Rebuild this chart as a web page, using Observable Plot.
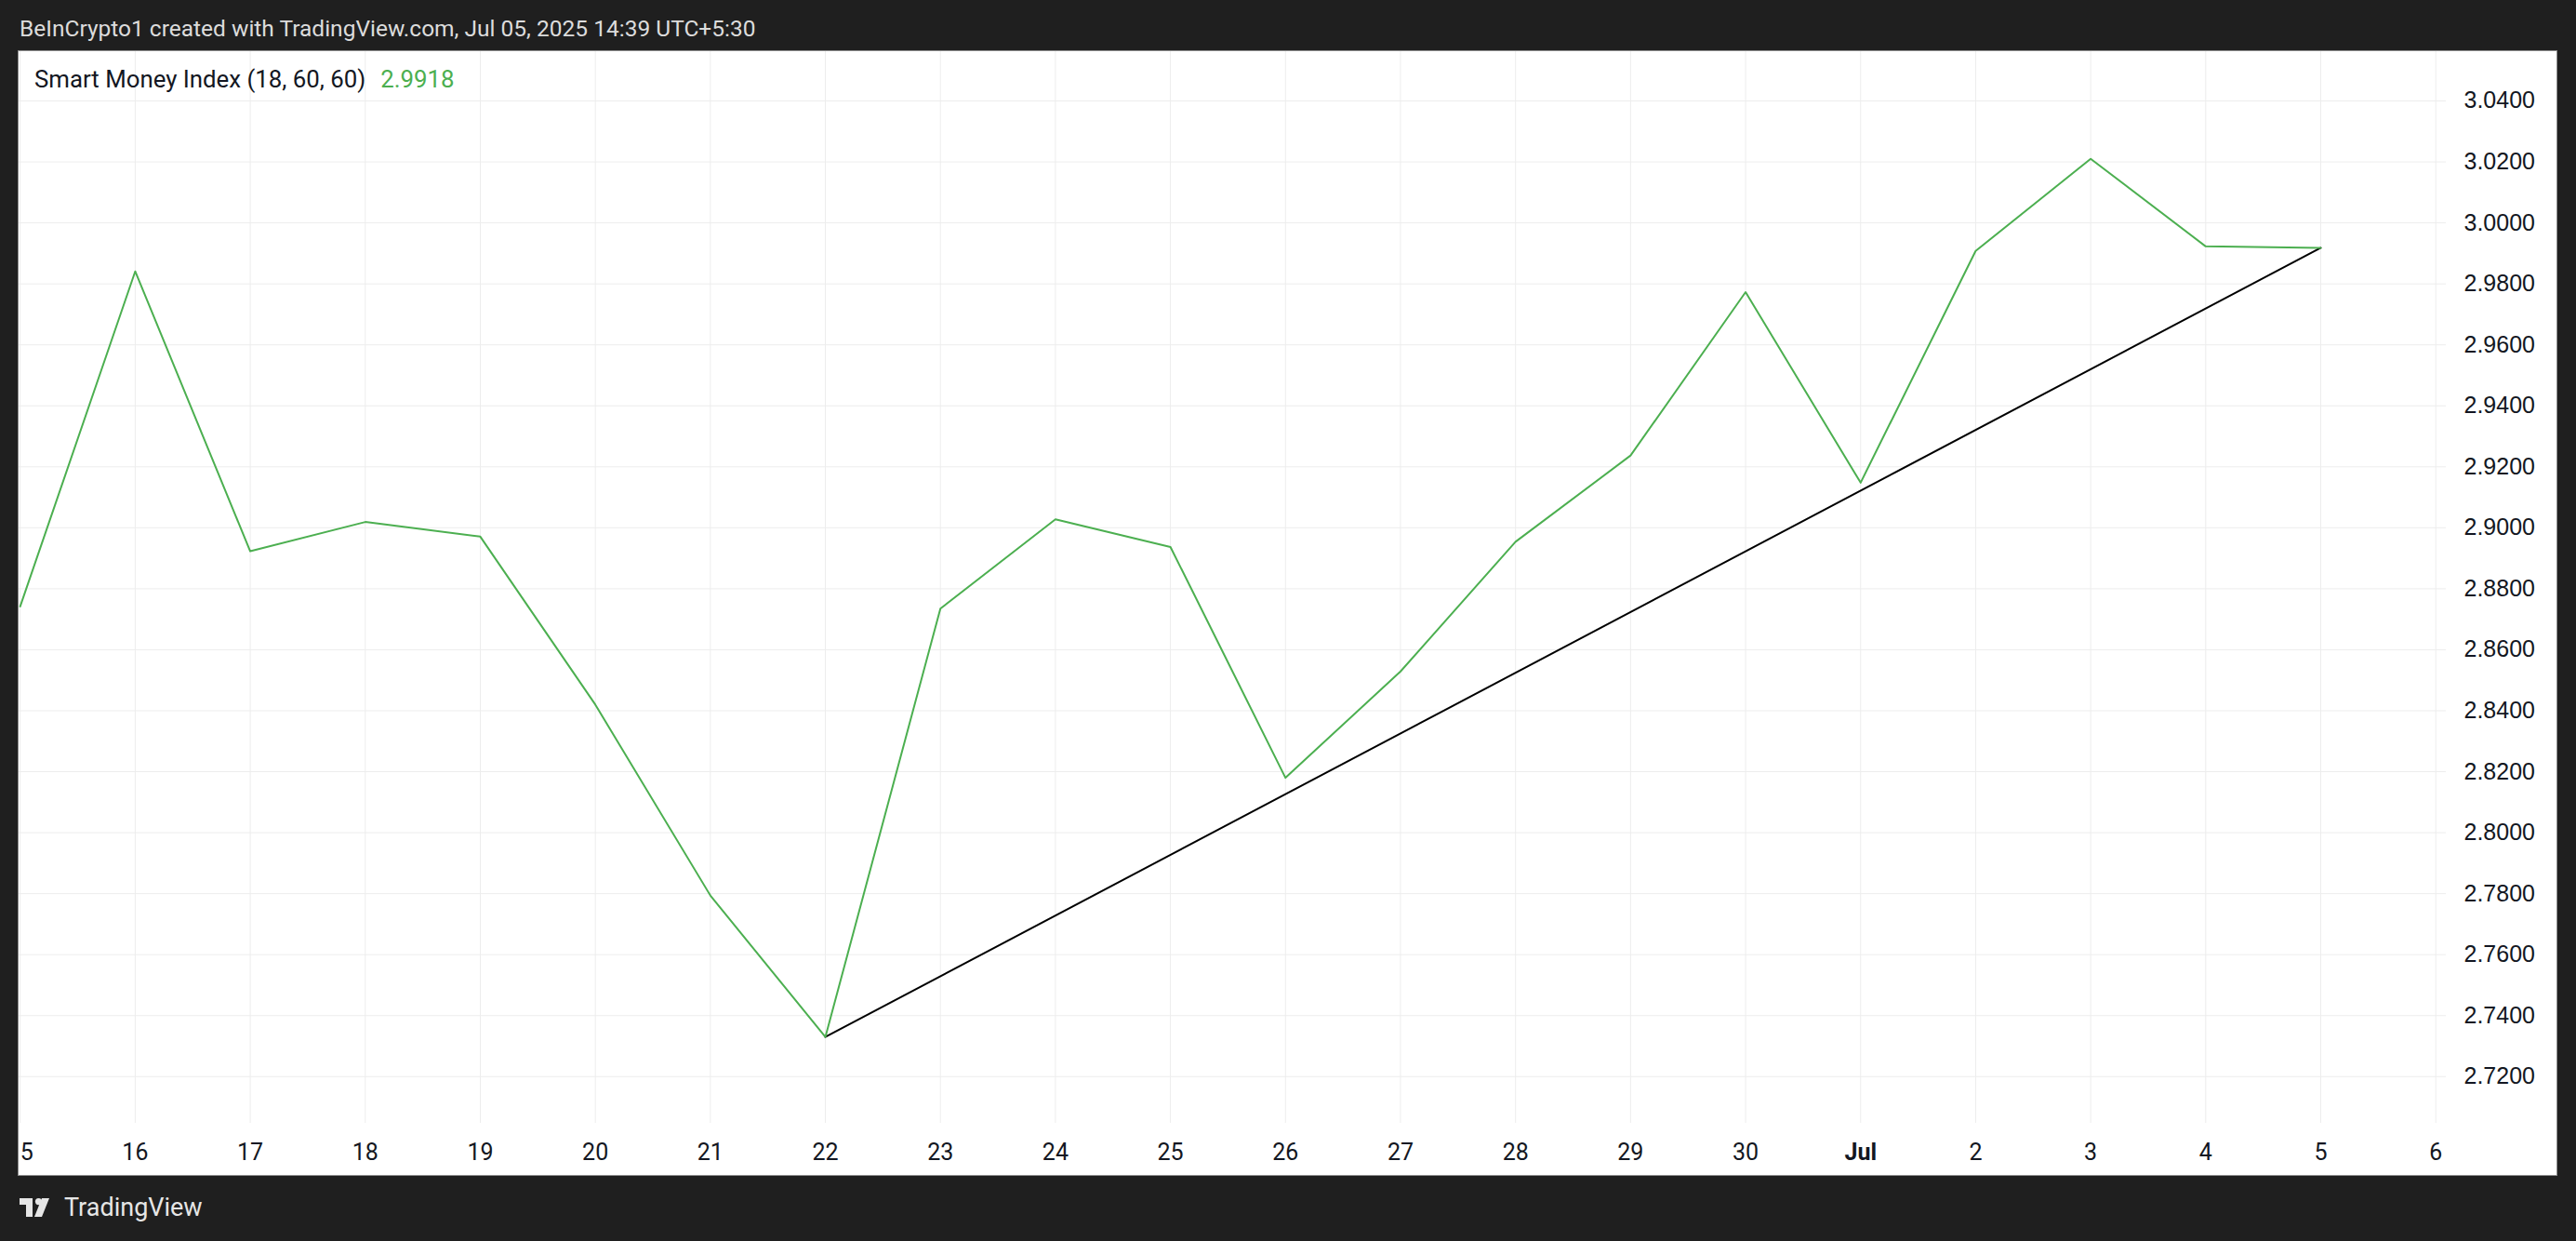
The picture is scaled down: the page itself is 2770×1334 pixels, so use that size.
<!DOCTYPE html>
<html>
<head>
<meta charset="utf-8">
<script src="https://cdn.jsdelivr.net/npm/d3@7"></script>
<script src="https://cdn.jsdelivr.net/npm/@observablehq/plot@0.6"></script>
<style>
  html, body { margin: 0; padding: 0; background: #1f1f1f; }
  body { width: 2770px; height: 1334px; position: relative; overflow: hidden; }
  #panel { position: absolute; left: 20px; top: 55px; width: 2729px; height: 1208px; background: #ffffff; }
  #border { position: absolute; left: 19px; top: 54px; width: 2729px; height: 1208px; border: 1px solid #8c8c8c; pointer-events: none; }
  #overlay { position: absolute; left: 0; top: 0; pointer-events: none; }
</style>
</head>
<body>
<div id="border"></div>
<div id="panel"></div>
<svg id="overlay" width="2770" height="1334"></svg>
<script>
// ---- data ----
const dates = [
  "2025-06-15","2025-06-16","2025-06-17","2025-06-18","2025-06-19","2025-06-20","2025-06-21",
  "2025-06-22","2025-06-23","2025-06-24","2025-06-25","2025-06-26","2025-06-27","2025-06-28",
  "2025-06-29","2025-06-30","2025-07-01","2025-07-02","2025-07-03","2025-07-04","2025-07-05"
];
const smiValues = [
  2.8742, 2.9841, 2.8923, 2.9019, 2.8971, 2.8420, 2.7794,
  2.7330, 2.8735, 2.9028, 2.8937, 2.8180, 2.8529, 2.8954,
  2.9237, 2.9773, 2.9148, 2.9908, 3.0210, 2.9923, 2.9918
];
const trendDates = ["2025-06-22", "2025-07-05"];
const trendValues = [2.7330, 2.9918];

const xTickDates = [
  "2025-06-15","2025-06-16","2025-06-17","2025-06-18","2025-06-19","2025-06-20","2025-06-21",
  "2025-06-22","2025-06-23","2025-06-24","2025-06-25","2025-06-26","2025-06-27","2025-06-28",
  "2025-06-29","2025-06-30","2025-07-01","2025-07-02","2025-07-03","2025-07-04","2025-07-05","2025-07-06"
];
const yTicks = [2.72, 2.74, 2.76, 2.78, 2.80, 2.82, 2.84, 2.86, 2.88, 2.90, 2.92, 2.94, 2.96, 2.98, 3.00, 3.02, 3.04];

const titleText = "BeInCrypto1 created with TradingView.com, Jul 05, 2025 14:39 UTC+5:30";
const legendName = "Smart Money Index (18, 60, 60)";
const legendValue = "2.9918";

// ---- build ----
const parse = s => new Date(s + "T00:00:00Z");
const series = dates.map((d, i) => ({date: parse(d), value: smiValues[i]}));
const trend = trendDates.map((d, i) => ({date: parse(d), value: trendValues[i]}));
const xTicks = xTickDates.map(parse);
const isJul1 = d => d.getUTCMonth() === 6 && d.getUTCDate() === 1;

const DAY = 864e5;
const xDomain = [new Date(parse("2025-06-15").getTime() - 0.0097 * DAY), new Date(parse("2025-07-06").getTime() + 0.0914 * DAY)];

const green = "#4caf50";
const textColor = "#131722";
const gridColor = "#ededed";
const font = "Roboto, 'Liberation Sans', sans-serif";

const chart = Plot.plot({
  width: 2729,
  height: 1208,
  marginLeft: 0,
  marginRight: 119,
  marginTop: 0,
  marginBottom: 56,
  style: {background: "#ffffff", fontFamily: font},
  x: {type: "utc", domain: xDomain, axis: null},
  y: {domain: [2.70468, 3.05617], axis: null},
  marks: [
    Plot.gridX(xTicks, {stroke: gridColor, strokeOpacity: 1, strokeWidth: 1}),
    Plot.gridY(yTicks, {stroke: gridColor, strokeOpacity: 1, strokeWidth: 1}),
    Plot.axisX(xTicks.filter(d => !isJul1(d)), {
      anchor: "bottom", tickSize: 0, tickPadding: 22, label: null,
      tickFormat: d => String(d.getUTCDate()),
      fontSize: 25, fill: textColor, fontFamily: font
    }),
    Plot.axisX(xTicks.filter(isJul1), {
      anchor: "bottom", tickSize: 0, tickPadding: 22, label: null,
      tickFormat: () => "Jul",
      fontSize: 25, fontWeight: "bold", fill: textColor, fontFamily: font
    }),
    Plot.axisY(yTicks, {
      anchor: "right", tickSize: 0, tickPadding: 19, label: null,
      tickFormat: d => d.toFixed(4),
      fontSize: 25, fill: textColor, fontFamily: "'Liberation Sans', Arial, sans-serif"
    }),
    Plot.line(trend, {x: "date", y: "value", stroke: "#000000", strokeWidth: 2}),
    Plot.line(series, {x: "date", y: "value", stroke: green, strokeWidth: 2})
  ]
});
document.getElementById("panel").appendChild(chart);

// ---- overlay texts (title, legend, footer) ----
const ov = d3.select("#overlay");
ov.append("text")
  .attr("x", 21).attr("y", 39)
  .attr("fill", "#dcdcdc")
  .attr("font-family", font)
  .attr("font-size", 24.5)
  .text(titleText);

const leg = ov.append("text")
  .attr("x", 37).attr("y", 94)
  .attr("font-family", font)
  .attr("font-size", 25.8);
leg.append("tspan").attr("fill", textColor).text(legendName);
leg.append("tspan").attr("fill", green).attr("dx", 16).text(legendValue);

// TradingView logo mark
const logo = ov.append("g").attr("transform", "translate(21,1288)").attr("fill", "#e6e6e6");
logo.append("path").attr("d", "M0 0 H14 V20 H7 V7 H0 Z");
logo.append("circle").attr("cx", 20.5).attr("cy", 3.6).attr("r", 3.6);
logo.append("path").attr("d", "M24 0 H32 L24 20 H16 Z");
ov.append("text")
  .attr("x", 69).attr("y", 1307)
  .attr("fill", "#e6e6e6")
  .attr("font-family", font)
  .attr("font-size", 27)
  .text("TradingView");
</script>
</body>
</html>
